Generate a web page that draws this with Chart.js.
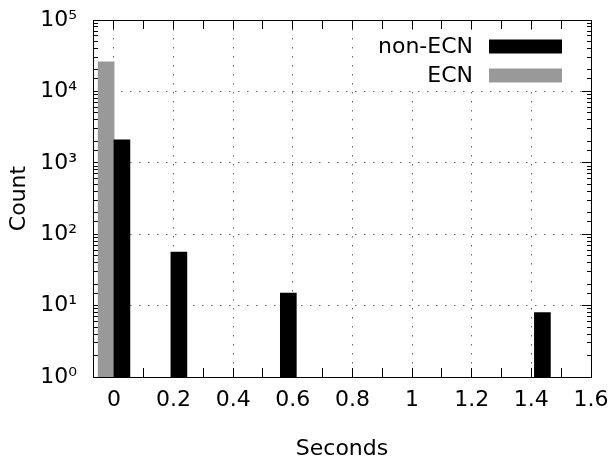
<!DOCTYPE html>
<html>
<head>
<meta charset="utf-8">
<script src="https://cdn.jsdelivr.net/npm/chart.js@4"></script>
<style>
  html, body { margin: 0; padding: 0; background: #fff; }
</style>
</head>
<body>
<canvas id="chart" width="616" height="462"></canvas>
<script>
// Values
const nonEcnX = [0.027, 0.218, 0.585, 1.437];
const nonEcnCount = [2100, 56, 15, 8];
const ecnX = [-0.026];
const ecnCount = [26000];

const xTicks = [0, 0.1, 0.2, 0.3, 0.4, 0.5, 0.6, 0.7, 0.8, 0.9, 1, 1.1, 1.2, 1.3, 1.4, 1.5, 1.6];
const xTickLabels = ['0', '', '0.2', '', '0.4', '', '0.6', '', '0.8', '', '1', '', '1.2', '', '1.4', '', '1.6'];
const yTickLabels = ['10⁰', '10¹', '10²', '10³', '10⁴', '10⁵'];

Chart.defaults.font.family = '"DejaVu Sans", Verdana, sans-serif';
Chart.defaults.font.size = 22;
Chart.defaults.color = '#000';

const DOT = 'rgba(0,0,0,0.6)';

function decade(v) {
  const e = Math.log10(v);
  return Math.abs(e - Math.round(e)) < 1e-6 ? Math.round(e) : null;
}

// fixed box sizes so the plot frame sits where the reference has it
function fixSize(w, h) {
  return s => {
    if (w !== null) s.width = w;
    if (h !== null) s.height = h;
    s.paddingTop = s.paddingBottom = s.paddingLeft = s.paddingRight = 0;
  };
}

// gnuplot-like key inside the plot, text on the left, sample on the right
const insideKey = {
  id: 'insideKey',
  beforeDatasetsDraw(chart) {
    const { ctx, chartArea } = chart;
    const right = chartArea.right;
    ctx.save();
    ctx.fillStyle = '#fff';
    ctx.fillRect(right - 229, chartArea.top + 10, 218, 58);
    ctx.font = '22px "DejaVu Sans", Verdana, sans-serif';
    ctx.textAlign = 'right';
    ctx.textBaseline = 'middle';
    chart.data.datasets.forEach((ds, i) => {
      const y = chartArea.top + 26.5 + i * 29;
      const boxRight = right - 29;
      ctx.fillStyle = ds.backgroundColor;
      ctx.fillRect(boxRight - 73, y - 7, 73, 14);
      ctx.fillStyle = '#000';
      ctx.fillText(ds.label, boxRight - 89, y + 1);
    });
    ctx.restore();
  }
};

new Chart(document.getElementById('chart'), {
  type: 'bar',
  data: {
    datasets: [
      {
        label: 'non-ECN',
        data: nonEcnX.map((x, i) => ({ x: x, y: nonEcnCount[i] })),
        backgroundColor: '#000000'
      },
      {
        label: 'ECN',
        data: ecnX.map((x, i) => ({ x: x, y: ecnCount[i] })),
        backgroundColor: '#999999'
      }
    ]
  },
  options: {
    responsive: false,
    animation: false,
    layout: { padding: 0 },
    datasets: { bar: { grouped: false, barThickness: 16, borderWidth: 0 } },
    plugins: { legend: { display: false }, tooltip: { enabled: false } },
    scales: {
      x: {
        type: 'linear',
        position: 'bottom',
        min: -0.07,
        max: 1.6,
        offset: false,
        afterBuildTicks: s => { s.ticks = xTicks.map(v => ({ value: v })); },
        afterFit: fixSize(null, 85),
        ticks: { padding: 19, autoSkip: false, maxRotation: 0, callback: (v, i) => xTickLabels[i] },
        grid: {
          offset: false,
          color: c => (c.index % 2 === 0 && c.index < xTicks.length - 1) ? DOT : 'transparent',
          tickLength: -9,
          tickColor: '#000',
          tickWidth: 1
        },
        border: { color: '#000', width: 1, dash: [1.5, 7.5] },
        title: { display: true, text: 'Seconds', padding: { top: 0, bottom: 0 } }
      },
      x2: {
        type: 'linear',
        position: 'top',
        min: -0.07,
        max: 1.6,
        offset: false,
        afterBuildTicks: s => { s.ticks = xTicks.map(v => ({ value: v })); },
        afterFit: fixSize(null, 20),
        ticks: { display: false },
        grid: { offset: false, drawOnChartArea: false, tickLength: -9, tickColor: '#000' },
        border: { color: '#000', width: 1 }
      },
      y: {
        type: 'logarithmic',
        position: 'left',
        min: 1,
        max: 100000,
        afterFit: fixSize(93, null),
        ticks: {
          autoSkip: false,
          padding: 25,
          callback: v => { const e = decade(v); return e === null ? '' : yTickLabels[e]; }
        },
        grid: {
          color: c => {
            if (!c.tick) return 'transparent';
            const e = decade(c.tick.value);
            return (e !== null && e > 0 && e < 5) ? DOT : 'transparent';
          },
          tickLength: -9,
          tickColor: '#000',
          tickBorderDash: c => (c.tick && decade(c.tick.value) !== null) ? [] : [0, 4, 5, 100]
        },
        border: { color: '#000', width: 1, dash: [1.5, 7.5] },
        title: { display: true, text: 'Count', padding: { top: 6, bottom: 0 } }
      },
      y2: {
        type: 'logarithmic',
        position: 'right',
        min: 1,
        max: 100000,
        afterFit: fixSize(25, null),
        ticks: { display: false },
        grid: {
          drawOnChartArea: false,
          tickLength: -9,
          tickColor: '#000',
          tickBorderDash: c => (c.tick && decade(c.tick.value) !== null) ? [] : [5, 100]
        },
        border: { color: '#000', width: 1 }
      }
    }
  },
  plugins: [insideKey]
});
</script>
</body>
</html>
